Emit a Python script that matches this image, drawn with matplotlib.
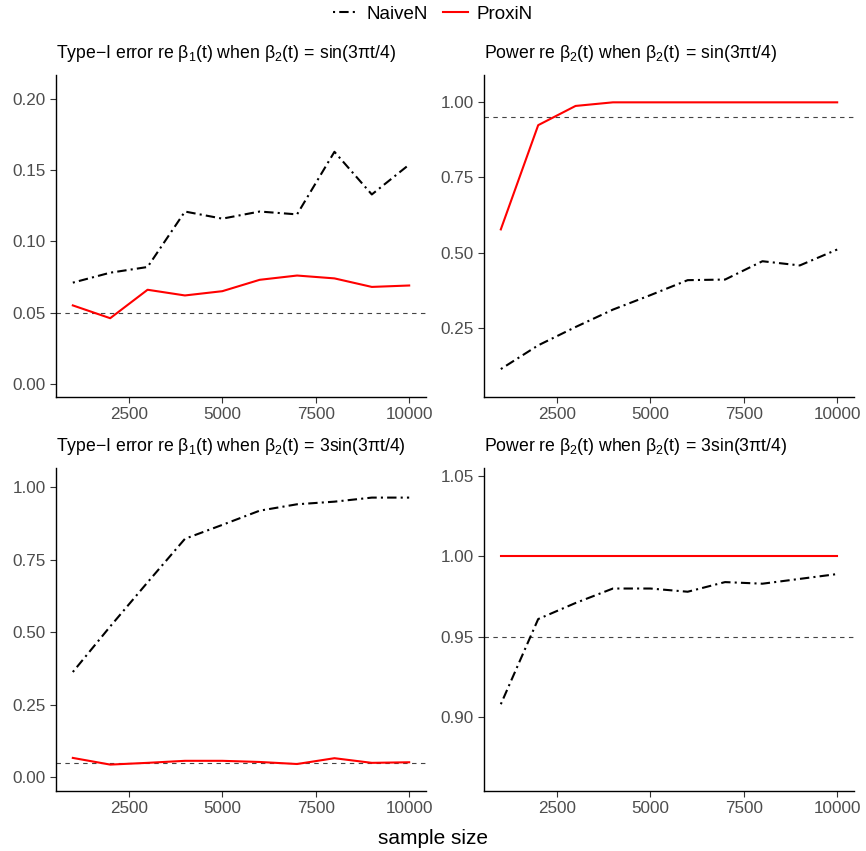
import numpy as np
import matplotlib
matplotlib.use("Agg")
import matplotlib.pyplot as plt
from matplotlib.ticker import FormatStrFormatter

plt.rcParams['font.family'] = ['Liberation Sans', 'DejaVu Sans']
plt.rcParams['mathtext.fontset'] = 'custom'
plt.rcParams['mathtext.rm'] = 'Liberation Sans'
plt.rcParams['mathtext.it'] = 'Liberation Sans'

sample_size = [1000, 2000, 3000, 4000, 5000, 6000, 7000, 8000, 9000, 10000]

# type-I error, beta2 = sin(3*pi*t/4)
t1_naive = [0.071, 0.078, 0.082, 0.121, 0.116, 0.121, 0.119, 0.163, 0.133, 0.154]
t1_proxi = [0.055, 0.046, 0.066, 0.062, 0.065, 0.073, 0.076, 0.074, 0.068, 0.069]
# power, beta2 = sin(3*pi*t/4)
p1_naive = [0.112, 0.191, 0.252, 0.310, 0.358, 0.408, 0.410, 0.471, 0.457, 0.510]
p1_proxi = [0.577, 0.924, 0.988, 1.0, 1.0, 1.0, 1.0, 1.0, 1.0, 1.0]
# type-I error, beta2 = 3sin(3*pi*t/4)
t2_naive = [0.363, 0.520, 0.672, 0.822, 0.870, 0.919, 0.941, 0.950, 0.964, 0.964]
t2_proxi = [0.067, 0.044, 0.050, 0.057, 0.057, 0.053, 0.046, 0.066, 0.050, 0.052]
# power, beta2 = 3sin(3*pi*t/4)
p2_naive = [0.908, 0.961, 0.971, 0.980, 0.980, 0.978, 0.984, 0.983, 0.986, 0.989]
p2_proxi = [1.0, 1.0, 1.0, 1.0, 1.0, 1.0, 1.0, 1.0, 1.0, 1.0]

titles = [
    r"Type$-$I error re $\beta_1$(t) when $\beta_2$(t)$\,=\,$sin(3$\pi$t/4)",
    r"Power re $\beta_2$(t) when $\beta_2$(t)$\,=\,$sin(3$\pi$t/4)",
    r"Type$-$I error re $\beta_1$(t) when $\beta_2$(t)$\,=\,$3sin(3$\pi$t/4)",
    r"Power re $\beta_2$(t) when $\beta_2$(t)$\,=\,$3sin(3$\pi$t/4)",
]
ref_levels = [0.05, 0.95, 0.05, 0.95]
yticks = [[0, 0.05, 0.10, 0.15, 0.20],
          [0.25, 0.50, 0.75, 1.00],
          [0, 0.25, 0.50, 0.75, 1.00],
          [0.90, 0.95, 1.00, 1.05]]
ylims = [(-0.0094, 0.217), (0.019, 1.091), (-0.047, 1.066), (0.854, 1.055)]

W, H = 866, 851
fig = plt.figure(figsize=(W / 100, H / 100), dpi=100)

# panel boxes in pixels: left, top, right, bottom
boxes = [(56, 75, 426, 397), (484, 75, 854, 397),
         (56, 468, 426, 791), (484, 468, 854, 791)]

series = [(t1_naive, t1_proxi), (p1_naive, p1_proxi),
          (t2_naive, t2_proxi), (p2_naive, p2_proxi)]

for i, (l, t, r, b) in enumerate(boxes):
    ax = fig.add_axes([l / W, 1 - b / H, (r - l) / W, (b - t) / H])
    naive, proxi = series[i]
    ln_n, = ax.plot(sample_size, naive, color='black', lw=1.5,
                    dashes=(1, 2, 4.5, 2), label='NaiveN')
    ln_p, = ax.plot(sample_size, proxi, color='red', lw=1.5, label='ProxiN')
    ax.axhline(ref_levels[i], color='#444444', lw=0.8, dashes=(4, 4), zorder=0)
    ax.set_xlim(550, 10450)
    ax.set_ylim(*ylims[i])
    ax.set_xticks([2500, 5000, 7500, 10000])
    ax.set_yticks(yticks[i])
    ax.yaxis.set_major_formatter(FormatStrFormatter('%.2f'))
    for s in ['top', 'right']:
        ax.spines[s].set_visible(False)
    for s in ['left', 'bottom']:
        ax.spines[s].set_linewidth(1.0)
    ax.tick_params(labelsize=12.3, labelcolor='#4D4D4D', color='#333333',
                   length=4, width=0.8)
    ax.set_title(titles[i], fontsize=12.7, loc='left', pad=12)

fig.legend([ln_n, ln_p], ['NaiveN', 'ProxiN'], loc='center',
           bbox_to_anchor=(0.5, 1 - 14 / H), ncol=2, frameon=False,
           fontsize=13.5, handlelength=1.3, handletextpad=0.5,
           columnspacing=0.8)
fig.text(0.5, 1 - 838 / H, 'sample size', ha='center', va='center', fontsize=15)

plt.savefig('out.png', dpi=100)
